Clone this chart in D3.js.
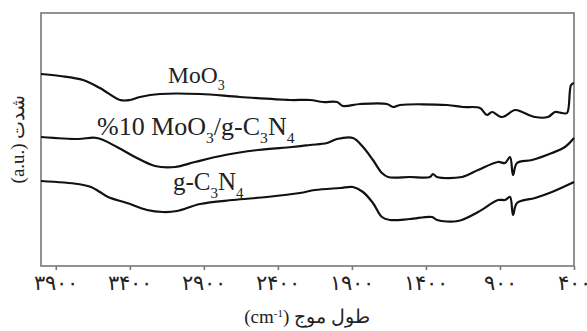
<!DOCTYPE html>
<html>
<head>
<meta charset="utf-8">
<script src="https://cdnjs.cloudflare.com/ajax/libs/d3/7.8.5/d3.min.js"></script>
<style>
  body { margin: 0; background: #fff; }
  svg { display: block; }
  text { font-family: "Liberation Serif", "Times New Roman", serif; fill: #222; }
</style>
</head>
<body>
<svg id="chart" width="587" height="331"></svg>
<script>
// wavenumber (cm-1) / intensity (a.u.)
var moo3Wave = [4000, 3872, 3716, 3602, 3466, 3399, 3331, 3196, 2926, 2656, 2318, 2183, 2095, 2001, 1960, 1845, 1663, 1623, 1575, 1258, 1150, 1035, 988, 954, 886, 798, 751, 663, 576, 528, 481, 447, 420, 400];
var moo3Val  = [192, 190, 186, 178, 166, 166, 169, 172, 172, 169, 166, 166, 164, 164, 160, 162, 162, 159, 161, 161, 159, 158, 151, 154, 149, 156, 154, 149, 149, 154, 153, 153, 181, 183];

var compWave = [4000, 3750, 3622, 3487, 3365, 3230, 3095, 2960, 2757, 2534, 2305, 2183, 2068, 2001, 1893, 1825, 1758, 1697, 1656, 1508, 1373, 1352, 1325, 1157, 1048, 913, 866, 832, 812, 785, 684, 549, 461, 400];
var compVal  = [129, 127, 128, 119, 109, 100, 99, 104, 111, 116, 119, 121, 123, 127, 128, 119, 106, 93, 89, 89, 89, 92, 89, 89, 96, 104, 103, 109, 91, 103, 106, 113, 119, 128];

var gcnWave = [4000, 3750, 3662, 3602, 3547, 3419, 3284, 3176, 3081, 2926, 2703, 2474, 2251, 2149, 1980, 1893, 1825, 1758, 1697, 1643, 1508, 1359, 1325, 1184, 1048, 913, 866, 832, 812, 785, 663, 549, 400];
var gcnVal  = [85, 82, 79, 74, 69, 63, 56, 54, 55, 62, 66, 69, 73, 76, 78, 79, 74, 63, 49, 46, 47, 49, 46, 45, 54, 66, 66, 69, 51, 63, 68, 74, 84];

var xTicks = [3900, 3400, 2900, 2400, 1900, 1400, 900, 400];

(function () {
  var svg = d3.select("#chart");
  var m = { left: 41, right: 574, top: 13, bottom: 266 };

  var x = d3.scaleLinear().domain([4000, 400]).range([m.left, m.right]);
  var y = d3.scaleLinear().domain([0, 253]).range([m.bottom, m.top]);

  function persian(n) {
    var digits = "۰۱۲۳۴۵۶۷۸۹";
    return String(n).replace(/[0-9]/g, function (d) { return digits[+d]; });
  }

  function toPoints(w, v) {
    return w.map(function (d, i) { return [d, v[i]]; });
  }

  var line = d3.line()
    .x(function (p) { return x(p[0]); })
    .y(function (p) { return y(p[1]); })
    .curve(d3.curveCatmullRom.alpha(0.5));

  // frame
  svg.append("rect")
    .attr("x", m.left).attr("y", m.top)
    .attr("width", m.right - m.left).attr("height", m.bottom - m.top)
    .attr("fill", "none").attr("stroke", "#777").attr("stroke-width", 1.6);

  // x axis
  var xAxis = d3.axisBottom(x)
    .tickValues(xTicks)
    .tickSize(4)
    .tickPadding(5)
    .tickFormat(persian);

  var gx = svg.append("g")
    .attr("transform", "translate(0," + m.bottom + ")")
    .call(xAxis);
  gx.select(".domain").remove();
  gx.selectAll(".tick line").attr("stroke", "#777").attr("stroke-width", 1.6);
  gx.selectAll(".tick text")
    .style("font-size", "21px")
    .style("letter-spacing", "5px")
    .attr("fill", "#222");

  // spectra
  [[moo3Wave, moo3Val], [compWave, compVal], [gcnWave, gcnVal]].forEach(function (s) {
    svg.append("path")
      .datum(toPoints(s[0], s[1]))
      .attr("d", line)
      .attr("fill", "none")
      .attr("stroke", "#111")
      .attr("stroke-width", 2.2)
      .attr("stroke-linejoin", "round");
  });

  // curve labels, subscripts dropped below the baseline
  function label(xp, yp, parts, size) {
    var t = svg.append("text").attr("x", xp).attr("y", yp).style("font-size", size + "px");
    var off = Math.round(size * 0.3);
    parts.forEach(function (p) {
      var ts = t.append("tspan").text(p[0]);
      if (p[1]) ts.attr("dy", off).style("font-size", (size * 0.6) + "px");
      else if (p[2]) ts.attr("dy", -off);
    });
  }
  label(168, 83, [["MoO"], ["3", true]], 23.5);
  label(97, 135, [["%10 MoO"], ["3", true], ["/g-C", false, true], ["3", true], ["N", false, true], ["4", true]], 26);
  label(173, 190, [["g-C"], ["3", true], ["N", false, true], ["4", true]], 25);

  // axis titles
  var xt = svg.append("text")
    .attr("x", 307).attr("y", 323)
    .attr("text-anchor", "middle")
    .style("font-size", "19px");
  xt.append("tspan").text("(cm");
  xt.append("tspan").attr("dy", -6).style("font-size", "11px").text("-1");
  xt.append("tspan").attr("dy", 6).text(") طول موج");

  svg.append("text")
    .attr("transform", "translate(24,139) rotate(-90)")
    .attr("text-anchor", "middle")
    .style("font-size", "19px")
    .text("(a.u.) شدت");
})();
</script>
</body>
</html>
